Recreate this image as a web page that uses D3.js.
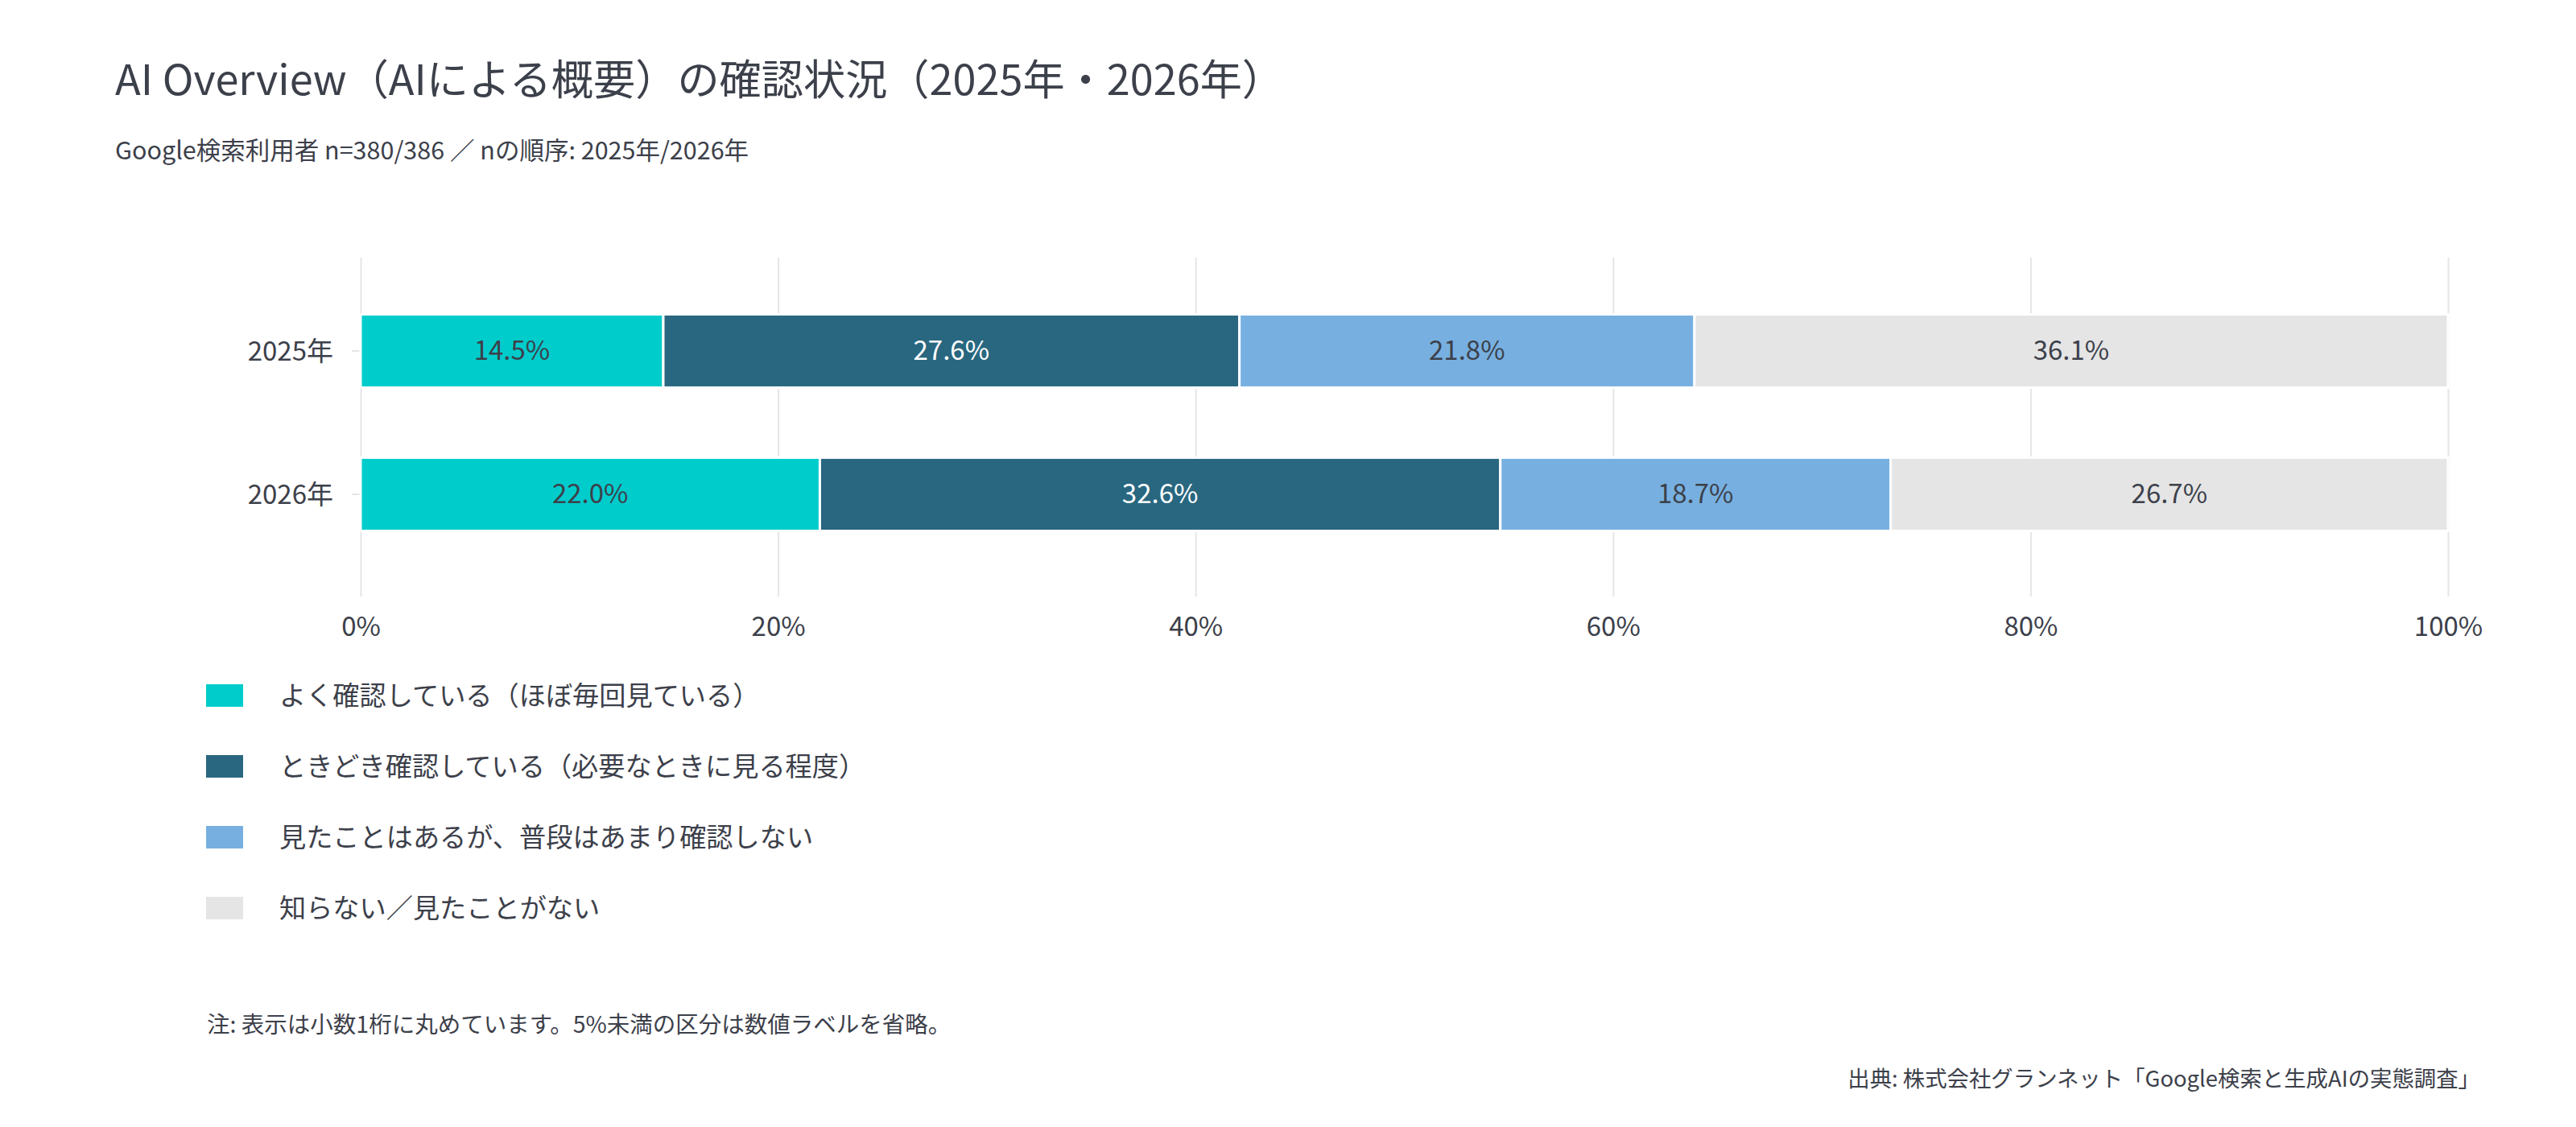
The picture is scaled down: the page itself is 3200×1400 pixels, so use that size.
<!DOCTYPE html>
<html>
<head>
<meta charset="utf-8">
<script src="https://cdn.jsdelivr.net/npm/d3@7"></script>
<style>
  body { margin: 0; background: #fff; }
  svg { display: block; font-family: "Noto Sans CJK JP", "Noto Sans", sans-serif; }
</style>
</head>
<body>
<div id="chart"></div>
<script>
// chart data
const YEARS = ["2025年", "2026年"];
const CATEGORIES = [
  "よく確認している（ほぼ毎回見ている）",
  "ときどき確認している（必要なときに見る程度）",
  "見たことはあるが、普段はあまり確認しない",
  "知らない／見たことがない"
];
const VALUES_2025 = [14.5, 27.6, 21.8, 36.1];
const VALUES_2026 = [22.0, 32.6, 18.7, 26.7];
const X_TICKS = [0, 20, 40, 60, 80, 100];

const TITLE = "AI Overview（AIによる概要）の確認状況（2025年・2026年）";
const SUBTITLE = "Google検索利用者 n=380/386 ／ nの順序: 2025年/2026年";
const NOTE = "注: 表示は小数1桁に丸めています。5%未満の区分は数値ラベルを省略。";
const SOURCE = "出典: 株式会社グランネット「Google検索と生成AIの実態調査」";

// constants for plot design
const FRAME_WIDTH = 3200;
const FRAME_HEIGHT = 1400;
const PLOT = {left: 448, right: 3041, top: 320, bottom: 730};
const COLORS = ["#00cccc", "#296780", "#77b0e0", "#e5e5e5"];
const LABEL_COLORS = ["#3c404a", "#ffffff", "#3c404a", "#3c404a"];
const TEXT = "#3c404a";
const GRID = "#e5e5e5";

// rows for the stack
const rows = YEARS.map((y, i) => {
  const vals = i === 0 ? VALUES_2025 : VALUES_2026;
  const row = {year: y};
  CATEGORIES.forEach((c, j) => { row[c] = vals[j]; });
  return row;
});
const series = d3.stack().keys(CATEGORIES)(rows);

const xScale = d3.scaleLinear()
                 .domain([0, 100])
                 .range([PLOT.left, PLOT.right]);

const yScale = d3.scaleBand()
                 .domain(YEARS)
                 .range([PLOT.top, PLOT.bottom])
                 .paddingInner(0.489)
                 .paddingOuter(0.396);

const svg = d3.select("#chart")
              .append("svg")
                .attr("width", FRAME_WIDTH)
                .attr("height", FRAME_HEIGHT);

// title + subtitle
svg.append("text")
   .attr("x", 143).attr("y", 118)
   .attr("font-size", 52.2)
   .attr("fill", TEXT)
   .text(TITLE);

svg.append("text")
   .attr("x", 143).attr("y", 198)
   .attr("font-size", 30.5)
   .attr("fill", TEXT)
   .text(SUBTITLE);

// gridlines
svg.append("g")
   .attr("transform", "translate(0," + PLOT.bottom + ")")
   .call(d3.axisBottom(xScale).tickValues(X_TICKS).tickSize(-(PLOT.bottom - PLOT.top)).tickFormat(""))
   .call(g => g.select(".domain").remove())
   .call(g => g.selectAll("line").attr("stroke", GRID).attr("stroke-width", 2));

// x axis
const xAxis = svg.append("g")
   .attr("transform", "translate(0," + PLOT.bottom + ")")
   .call(d3.axisBottom(xScale).tickValues(X_TICKS).tickSize(11).tickFormat(d => d + "%"));
xAxis.select(".domain").remove();
xAxis.selectAll("line").attr("stroke", GRID).attr("stroke-width", 2);
xAxis.selectAll("text")
     .attr("y", 60).attr("dy", null)
     .attr("font-size", 33)
     .attr("font-family", "Noto Sans CJK JP")
     .attr("fill", TEXT);

// y axis
const yAxis = svg.append("g")
   .attr("transform", "translate(" + PLOT.left + ",0)")
   .call(d3.axisLeft(yScale).tickSize(11));
yAxis.select(".domain").remove();
yAxis.selectAll("line").attr("stroke", GRID).attr("stroke-width", 2);
yAxis.selectAll("text")
     .attr("x", -34).attr("dy", "0.35em")
     .attr("font-size", 33)
     .attr("font-family", "Noto Sans CJK JP")
     .attr("fill", TEXT);

// stacked bars
const layers = svg.selectAll(".layer")
  .data(series)
  .enter()
  .append("g")
    .attr("class", "layer")
    .attr("fill", (d, i) => COLORS[i]);

layers.selectAll("rect")
  .data(d => d)
  .enter()
  .append("rect")
    .attr("x", d => xScale(d[0]))
    .attr("y", d => yScale(d.data.year))
    .attr("width", d => xScale(d[1]) - xScale(d[0]))
    .attr("height", yScale.bandwidth())
    .attr("stroke", "#ffffff")
    .attr("stroke-width", 3);

// value labels (hidden under 5%)
series.forEach((s, i) => {
  svg.append("g").selectAll("text")
    .data(s.filter(d => d[1] - d[0] >= 5))
    .enter()
    .append("text")
      .attr("x", d => (xScale(d[0]) + xScale(d[1])) / 2)
      .attr("y", d => yScale(d.data.year) + yScale.bandwidth() / 2 + 11)
      .attr("text-anchor", "middle")
      .attr("font-size", 33)
      .attr("fill", LABEL_COLORS[i])
      .text(d => (d[1] - d[0]).toFixed(1) + "%");
});

// legend
const legend = svg.append("g")
  .selectAll("g")
  .data(CATEGORIES)
  .enter()
  .append("g")
    .attr("transform", (d, i) => "translate(256," + (850 + i * 88) + ")");

legend.append("rect")
  .attr("width", 46)
  .attr("height", 28)
  .attr("fill", (d, i) => COLORS[i]);

legend.append("text")
  .attr("x", 91)
  .attr("y", 26)
  .attr("font-size", 33.2)
  .attr("fill", TEXT)
  .text(d => d);

// footnotes
svg.append("text")
   .attr("x", 257).attr("y", 1283)
   .attr("font-size", 28.5)
   .attr("fill", TEXT)
   .text(NOTE);

svg.append("text")
   .attr("x", 3081).attr("y", 1350)
   .attr("text-anchor", "end")
   .attr("font-size", 27.4)
   .attr("fill", TEXT)
   .text(SOURCE);
</script>
</body>
</html>
